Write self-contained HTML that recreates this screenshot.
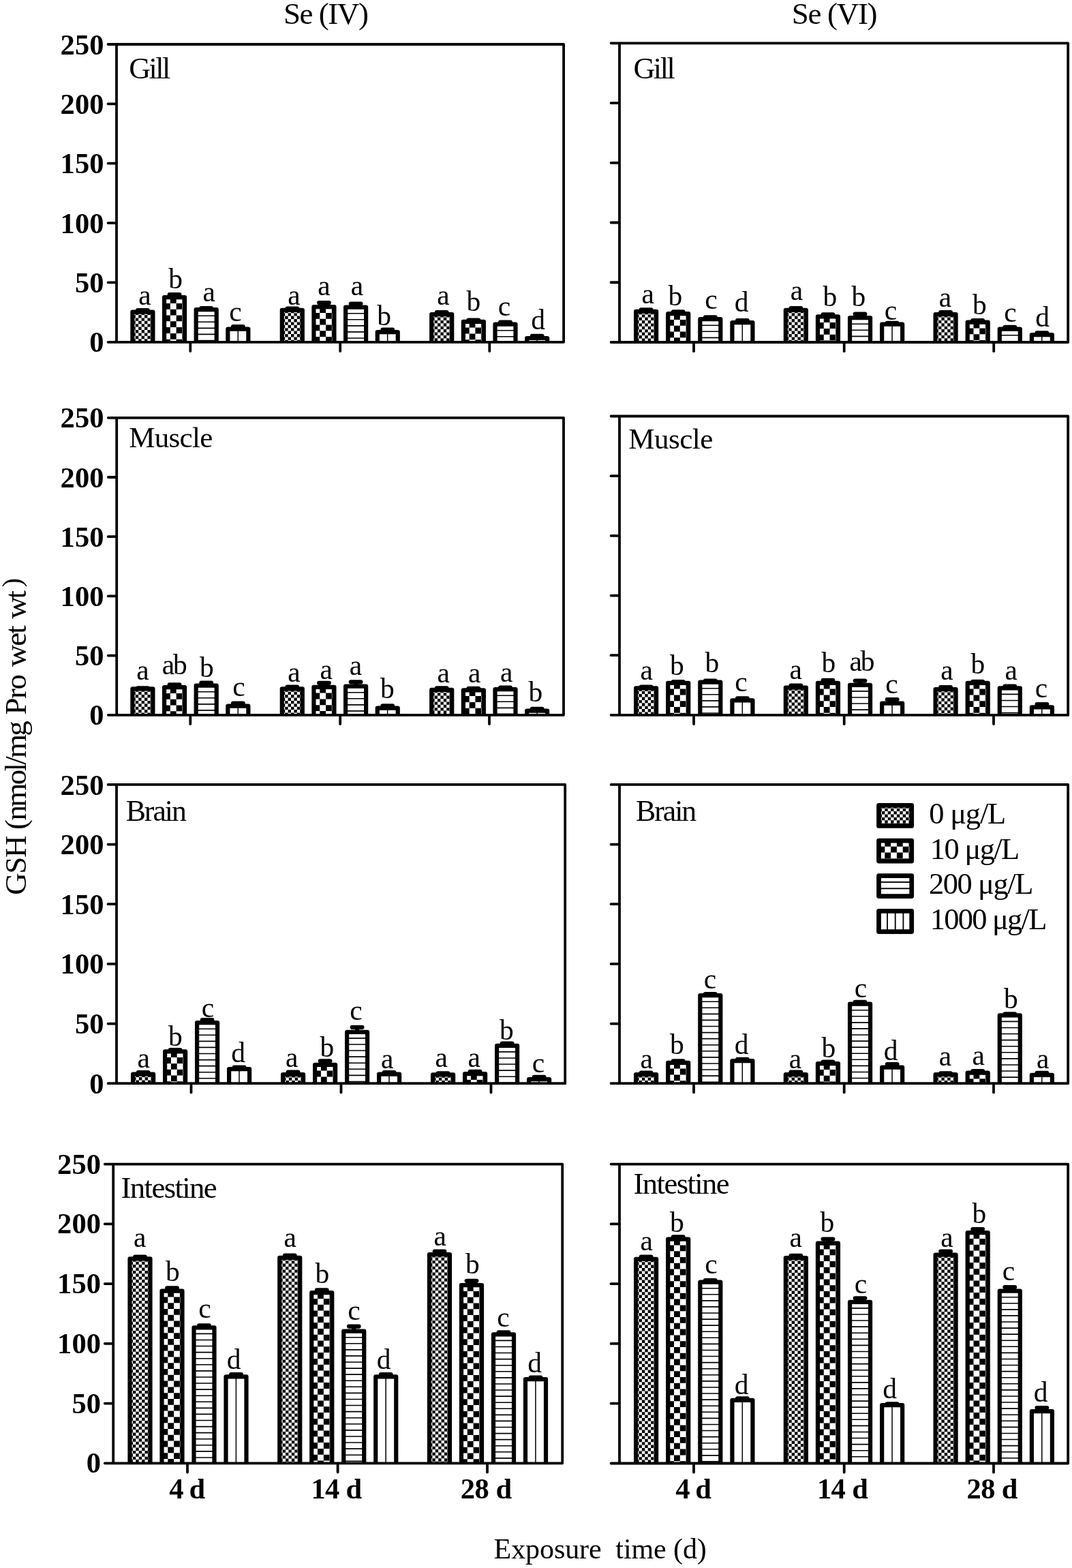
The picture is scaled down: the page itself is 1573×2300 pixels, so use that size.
<!DOCTYPE html>
<html lang="en">
<head>
<meta charset="utf-8">
<title>GSH content in tissues under Se (IV) and Se (VI) exposure</title>
<style>
html,body{margin:0;padding:0;background:#fff}
body{width:1573px;height:2300px;overflow:hidden}
svg{display:block}
text{font-family:"Liberation Serif","DejaVu Serif",serif;fill:#000;font-kerning:none;white-space:pre}
.a{fill:none;stroke:#000;stroke-width:3.8;stroke-linecap:round;stroke-linejoin:round}
.f{fill:none;stroke:#000;stroke-width:3.8;stroke-linecap:butt}
.b{fill:none;stroke:#000;stroke-width:6.2;stroke-linejoin:round;stroke-linecap:butt}
.e{fill:none;stroke:#000;stroke-width:6.2;stroke-linecap:butt}
.c{fill:none;stroke:#000;stroke-width:6.2;stroke-linecap:round}
.k{fill:none;stroke:#000;stroke-linecap:butt}
</style>
</head>
<body>
<svg width="1573" height="2300" viewBox="0 0 1573 2300">

<rect width="1573" height="2300" fill="#fff"/>
<g transform="translate(194.40 457.60)"><rect width="30.00" height="44.20" fill="#fff"/><path class="k" d="M2.20 0V44.20" stroke-width="4.40" stroke-dasharray="4.40" stroke-dashoffset="4.40"/><path class="k" d="M6.60 0V44.20" stroke-width="4.40" stroke-dasharray="4.40" stroke-dashoffset="0.00"/><path class="k" d="M11.00 0V44.20" stroke-width="4.40" stroke-dasharray="4.40" stroke-dashoffset="4.40"/><path class="k" d="M15.40 0V44.20" stroke-width="4.40" stroke-dasharray="4.40" stroke-dashoffset="0.00"/><path class="k" d="M19.80 0V44.20" stroke-width="4.40" stroke-dasharray="4.40" stroke-dashoffset="4.40"/><path class="k" d="M24.20 0V44.20" stroke-width="4.40" stroke-dasharray="4.40" stroke-dashoffset="0.00"/><path class="k" d="M28.20 0V44.20" stroke-width="3.60" stroke-dasharray="4.40" stroke-dashoffset="4.40"/><path class="b" d="M0 44.20V0H30.00V44.20"/></g>
<path class="e" d="M209.40 457.60V455.10"/>
<path class="c" d="M202.10 455.10H216.70"/>
<text x="203.24" y="446.80" font-size="41.50">a</text>
<g transform="translate(241.05 436.10)"><rect width="30.00" height="65.70" fill="#fff"/><path class="k" d="M4.40 0V65.70" stroke-width="8.80" stroke-dasharray="8.80" stroke-dashoffset="8.80"/><path class="k" d="M13.20 0V65.70" stroke-width="8.80" stroke-dasharray="8.80" stroke-dashoffset="0.00"/><path class="k" d="M22.00 0V65.70" stroke-width="8.80" stroke-dasharray="8.80" stroke-dashoffset="8.80"/><path class="k" d="M28.20 0V65.70" stroke-width="3.60" stroke-dasharray="8.80" stroke-dashoffset="0.00"/><path class="b" d="M0 65.70V0H30.00V65.70"/></g>
<path class="e" d="M256.05 436.10V432.10"/>
<path class="c" d="M248.75 432.10H263.35"/>
<text x="247.32" y="422.90" font-size="41.50">b</text>
<g transform="translate(287.70 454.10)"><rect width="30.00" height="47.70" fill="#fff"/><path class="k" d="M15.00 0V47.70" stroke-width="30.00" stroke-dasharray="1.60 7.48" stroke-dashoffset="0.80"/><path class="b" d="M0 47.70V0H30.00V47.70"/></g>
<path class="e" d="M302.70 454.10V452.10"/>
<path class="c" d="M295.40 452.10H310.00"/>
<text x="297.54" y="442.00" font-size="41.50">a</text>
<g transform="translate(334.35 482.60)"><rect width="30.00" height="19.20" fill="#fff"/><rect x="14.15" width="1.50" height="19.20"/><path class="b" d="M0 19.20V0H30.00V19.20"/></g>
<path class="e" d="M349.35 482.60V479.10"/>
<path class="c" d="M342.05 479.10H356.65"/>
<text x="336.34" y="471.10" font-size="41.50">c</text>
<g transform="translate(413.80 454.80)"><rect width="30.00" height="47.00" fill="#fff"/><path class="k" d="M2.20 0V47.00" stroke-width="4.40" stroke-dasharray="4.40" stroke-dashoffset="4.40"/><path class="k" d="M6.60 0V47.00" stroke-width="4.40" stroke-dasharray="4.40" stroke-dashoffset="0.00"/><path class="k" d="M11.00 0V47.00" stroke-width="4.40" stroke-dasharray="4.40" stroke-dashoffset="4.40"/><path class="k" d="M15.40 0V47.00" stroke-width="4.40" stroke-dasharray="4.40" stroke-dashoffset="0.00"/><path class="k" d="M19.80 0V47.00" stroke-width="4.40" stroke-dasharray="4.40" stroke-dashoffset="4.40"/><path class="k" d="M24.20 0V47.00" stroke-width="4.40" stroke-dasharray="4.40" stroke-dashoffset="0.00"/><path class="k" d="M28.20 0V47.00" stroke-width="3.60" stroke-dasharray="4.40" stroke-dashoffset="4.40"/><path class="b" d="M0 47.00V0H30.00V47.00"/></g>
<path class="e" d="M428.80 454.80V452.60"/>
<path class="c" d="M421.50 452.60H436.10"/>
<text x="422.34" y="446.80" font-size="41.50">a</text>
<g transform="translate(460.45 450.10)"><rect width="30.00" height="51.70" fill="#fff"/><path class="k" d="M4.40 0V51.70" stroke-width="8.80" stroke-dasharray="8.80" stroke-dashoffset="8.80"/><path class="k" d="M13.20 0V51.70" stroke-width="8.80" stroke-dasharray="8.80" stroke-dashoffset="0.00"/><path class="k" d="M22.00 0V51.70" stroke-width="8.80" stroke-dasharray="8.80" stroke-dashoffset="8.80"/><path class="k" d="M28.20 0V51.70" stroke-width="3.60" stroke-dasharray="8.80" stroke-dashoffset="0.00"/><path class="b" d="M0 51.70V0H30.00V51.70"/></g>
<path class="e" d="M475.45 450.10V444.10"/>
<path class="c" d="M468.15 444.10H482.75"/>
<text x="466.34" y="433.30" font-size="41.50">a</text>
<g transform="translate(507.10 450.60)"><rect width="30.00" height="51.20" fill="#fff"/><path class="k" d="M15.00 0V51.20" stroke-width="30.00" stroke-dasharray="1.60 7.48" stroke-dashoffset="0.80"/><path class="b" d="M0 51.20V0H30.00V51.20"/></g>
<path class="e" d="M522.10 450.60V445.60"/>
<path class="c" d="M514.80 445.60H529.40"/>
<text x="514.84" y="433.30" font-size="41.50">a</text>
<g transform="translate(553.75 487.10)"><rect width="30.00" height="14.70" fill="#fff"/><rect x="14.15" width="1.50" height="14.70"/><path class="b" d="M0 14.70V0H30.00V14.70"/></g>
<path class="e" d="M568.75 487.10V483.60"/>
<path class="c" d="M561.45 483.60H576.05"/>
<text x="553.22" y="477.30" font-size="41.50">b</text>
<g transform="translate(633.20 461.10)"><rect width="30.00" height="40.70" fill="#fff"/><path class="k" d="M2.20 0V40.70" stroke-width="4.40" stroke-dasharray="4.40" stroke-dashoffset="4.40"/><path class="k" d="M6.60 0V40.70" stroke-width="4.40" stroke-dasharray="4.40" stroke-dashoffset="0.00"/><path class="k" d="M11.00 0V40.70" stroke-width="4.40" stroke-dasharray="4.40" stroke-dashoffset="4.40"/><path class="k" d="M15.40 0V40.70" stroke-width="4.40" stroke-dasharray="4.40" stroke-dashoffset="0.00"/><path class="k" d="M19.80 0V40.70" stroke-width="4.40" stroke-dasharray="4.40" stroke-dashoffset="4.40"/><path class="k" d="M24.20 0V40.70" stroke-width="4.40" stroke-dasharray="4.40" stroke-dashoffset="0.00"/><path class="k" d="M28.20 0V40.70" stroke-width="3.60" stroke-dasharray="4.40" stroke-dashoffset="4.40"/><path class="b" d="M0 40.70V0H30.00V40.70"/></g>
<path class="e" d="M648.20 461.10V458.10"/>
<path class="c" d="M640.90 458.10H655.50"/>
<text x="641.34" y="446.50" font-size="41.50">a</text>
<g transform="translate(679.85 471.80)"><rect width="30.00" height="30.00" fill="#fff"/><path class="k" d="M4.40 0V30.00" stroke-width="8.80" stroke-dasharray="8.80" stroke-dashoffset="8.80"/><path class="k" d="M13.20 0V30.00" stroke-width="8.80" stroke-dasharray="8.80" stroke-dashoffset="0.00"/><path class="k" d="M22.00 0V30.00" stroke-width="8.80" stroke-dasharray="8.80" stroke-dashoffset="8.80"/><path class="k" d="M28.20 0V30.00" stroke-width="3.60" stroke-dasharray="8.80" stroke-dashoffset="0.00"/><path class="b" d="M0 30.00V0H30.00V30.00"/></g>
<path class="e" d="M694.85 471.80V469.60"/>
<path class="c" d="M687.55 469.60H702.15"/>
<text x="684.42" y="456.30" font-size="41.50">b</text>
<g transform="translate(726.50 475.60)"><rect width="30.00" height="26.20" fill="#fff"/><path class="k" d="M15.00 0V26.20" stroke-width="30.00" stroke-dasharray="1.60 7.48" stroke-dashoffset="0.80"/><path class="b" d="M0 26.20V0H30.00V26.20"/></g>
<path class="e" d="M741.50 475.60V472.60"/>
<path class="c" d="M734.20 472.60H748.80"/>
<text x="730.64" y="462.80" font-size="41.50">c</text>
<g transform="translate(773.15 496.00)"><rect width="30.00" height="5.80" fill="#fff"/><rect x="14.15" width="1.50" height="5.80"/><path class="b" d="M0 5.80V0H30.00V5.80"/></g>
<path class="e" d="M788.15 496.00V492.90"/>
<path class="c" d="M780.85 492.90H795.45"/>
<text x="779.13" y="483.30" font-size="41.50">d</text>
<path class="a" d="M158.60 65.00H827.10V501.80H158.60"/>
<path class="f" d="M171.00 65.00V501.80"/>
<path class="a" d="M158.60 152.36H170.50"/>
<path class="a" d="M158.60 239.72H170.50"/>
<path class="a" d="M158.60 327.08H170.50"/>
<path class="a" d="M158.60 414.44H170.50"/>
<path class="a" d="M279.30 502.40V515.00"/>
<path class="a" d="M499.20 502.40V515.00"/>
<path class="a" d="M718.30 502.40V515.00"/>
<text x="88.57" y="79.60" font-size="42.50" font-weight="bold" letter-spacing="0.100">250</text>
<text x="88.57" y="166.96" font-size="42.50" font-weight="bold" letter-spacing="0.100">200</text>
<text x="88.57" y="254.32" font-size="42.50" font-weight="bold" letter-spacing="0.100">150</text>
<text x="88.57" y="341.68" font-size="42.50" font-weight="bold" letter-spacing="0.100">100</text>
<text x="109.92" y="429.04" font-size="42.50" font-weight="bold" letter-spacing="0.100">50</text>
<text x="131.27" y="516.40" font-size="42.50" font-weight="bold" letter-spacing="0.100">0</text>
<text x="189.19" y="114.60" font-size="44.10" letter-spacing="-2.504">Gill</text>
<g transform="translate(933.10 456.80)"><rect width="30.00" height="45.20" fill="#fff"/><path class="k" d="M2.20 0V45.20" stroke-width="4.40" stroke-dasharray="4.40" stroke-dashoffset="4.40"/><path class="k" d="M6.60 0V45.20" stroke-width="4.40" stroke-dasharray="4.40" stroke-dashoffset="0.00"/><path class="k" d="M11.00 0V45.20" stroke-width="4.40" stroke-dasharray="4.40" stroke-dashoffset="4.40"/><path class="k" d="M15.40 0V45.20" stroke-width="4.40" stroke-dasharray="4.40" stroke-dashoffset="0.00"/><path class="k" d="M19.80 0V45.20" stroke-width="4.40" stroke-dasharray="4.40" stroke-dashoffset="4.40"/><path class="k" d="M24.20 0V45.20" stroke-width="4.40" stroke-dasharray="4.40" stroke-dashoffset="0.00"/><path class="k" d="M28.20 0V45.20" stroke-width="3.60" stroke-dasharray="4.40" stroke-dashoffset="4.40"/><path class="b" d="M0 45.20V0H30.00V45.20"/></g>
<path class="e" d="M948.10 456.80V454.30"/>
<path class="c" d="M940.80 454.30H955.40"/>
<text x="941.54" y="445.00" font-size="41.50">a</text>
<g transform="translate(980.20 460.10)"><rect width="30.00" height="41.90" fill="#fff"/><path class="k" d="M4.40 0V41.90" stroke-width="8.80" stroke-dasharray="8.80" stroke-dashoffset="8.80"/><path class="k" d="M13.20 0V41.90" stroke-width="8.80" stroke-dasharray="8.80" stroke-dashoffset="0.00"/><path class="k" d="M22.00 0V41.90" stroke-width="8.80" stroke-dasharray="8.80" stroke-dashoffset="8.80"/><path class="k" d="M28.20 0V41.90" stroke-width="3.60" stroke-dasharray="8.80" stroke-dashoffset="0.00"/><path class="b" d="M0 41.90V0H30.00V41.90"/></g>
<path class="e" d="M995.20 460.10V457.30"/>
<path class="c" d="M987.90 457.30H1002.50"/>
<text x="980.42" y="448.30" font-size="41.50">b</text>
<g transform="translate(1027.30 468.10)"><rect width="30.00" height="33.90" fill="#fff"/><path class="k" d="M15.00 0V33.90" stroke-width="30.00" stroke-dasharray="1.60 7.48" stroke-dashoffset="0.80"/><path class="b" d="M0 33.90V0H30.00V33.90"/></g>
<path class="e" d="M1042.30 468.10V465.30"/>
<path class="c" d="M1035.00 465.30H1049.60"/>
<text x="1034.34" y="452.80" font-size="41.50">c</text>
<g transform="translate(1074.40 473.10)"><rect width="30.00" height="28.90" fill="#fff"/><rect x="14.15" width="1.50" height="28.90"/><path class="b" d="M0 28.90V0H30.00V28.90"/></g>
<path class="e" d="M1089.40 473.10V470.10"/>
<path class="c" d="M1082.10 470.10H1096.70"/>
<text x="1077.83" y="457.00" font-size="41.50">d</text>
<g transform="translate(1152.85 454.80)"><rect width="30.00" height="47.20" fill="#fff"/><path class="k" d="M2.20 0V47.20" stroke-width="4.40" stroke-dasharray="4.40" stroke-dashoffset="4.40"/><path class="k" d="M6.60 0V47.20" stroke-width="4.40" stroke-dasharray="4.40" stroke-dashoffset="0.00"/><path class="k" d="M11.00 0V47.20" stroke-width="4.40" stroke-dasharray="4.40" stroke-dashoffset="4.40"/><path class="k" d="M15.40 0V47.20" stroke-width="4.40" stroke-dasharray="4.40" stroke-dashoffset="0.00"/><path class="k" d="M19.80 0V47.20" stroke-width="4.40" stroke-dasharray="4.40" stroke-dashoffset="4.40"/><path class="k" d="M24.20 0V47.20" stroke-width="4.40" stroke-dasharray="4.40" stroke-dashoffset="0.00"/><path class="k" d="M28.20 0V47.20" stroke-width="3.60" stroke-dasharray="4.40" stroke-dashoffset="4.40"/><path class="b" d="M0 47.20V0H30.00V47.20"/></g>
<path class="e" d="M1167.85 454.80V452.10"/>
<path class="c" d="M1160.55 452.10H1175.15"/>
<text x="1159.84" y="440.00" font-size="41.50">a</text>
<g transform="translate(1199.95 464.30)"><rect width="30.00" height="37.70" fill="#fff"/><path class="k" d="M4.40 0V37.70" stroke-width="8.80" stroke-dasharray="8.80" stroke-dashoffset="8.80"/><path class="k" d="M13.20 0V37.70" stroke-width="8.80" stroke-dasharray="8.80" stroke-dashoffset="0.00"/><path class="k" d="M22.00 0V37.70" stroke-width="8.80" stroke-dasharray="8.80" stroke-dashoffset="8.80"/><path class="k" d="M28.20 0V37.70" stroke-width="3.60" stroke-dasharray="8.80" stroke-dashoffset="0.00"/><path class="b" d="M0 37.70V0H30.00V37.70"/></g>
<path class="e" d="M1214.95 464.30V461.30"/>
<path class="c" d="M1207.65 461.30H1222.25"/>
<text x="1207.42" y="448.80" font-size="41.50">b</text>
<g transform="translate(1247.05 466.10)"><rect width="30.00" height="35.90" fill="#fff"/><path class="k" d="M15.00 0V35.90" stroke-width="30.00" stroke-dasharray="1.60 7.48" stroke-dashoffset="0.80"/><path class="b" d="M0 35.90V0H30.00V35.90"/></g>
<path class="e" d="M1262.05 466.10V460.60"/>
<path class="c" d="M1254.75 460.60H1269.35"/>
<text x="1249.42" y="448.80" font-size="41.50">b</text>
<g transform="translate(1294.15 475.60)"><rect width="30.00" height="26.40" fill="#fff"/><rect x="14.15" width="1.50" height="26.40"/><path class="b" d="M0 26.40V0H30.00V26.40"/></g>
<path class="e" d="M1309.15 475.60V473.80"/>
<path class="c" d="M1301.85 473.80H1316.45"/>
<text x="1297.64" y="468.80" font-size="41.50">c</text>
<g transform="translate(1372.60 461.10)"><rect width="30.00" height="40.90" fill="#fff"/><path class="k" d="M2.20 0V40.90" stroke-width="4.40" stroke-dasharray="4.40" stroke-dashoffset="4.40"/><path class="k" d="M6.60 0V40.90" stroke-width="4.40" stroke-dasharray="4.40" stroke-dashoffset="0.00"/><path class="k" d="M11.00 0V40.90" stroke-width="4.40" stroke-dasharray="4.40" stroke-dashoffset="4.40"/><path class="k" d="M15.40 0V40.90" stroke-width="4.40" stroke-dasharray="4.40" stroke-dashoffset="0.00"/><path class="k" d="M19.80 0V40.90" stroke-width="4.40" stroke-dasharray="4.40" stroke-dashoffset="4.40"/><path class="k" d="M24.20 0V40.90" stroke-width="4.40" stroke-dasharray="4.40" stroke-dashoffset="0.00"/><path class="k" d="M28.20 0V40.90" stroke-width="3.60" stroke-dasharray="4.40" stroke-dashoffset="4.40"/><path class="b" d="M0 40.90V0H30.00V40.90"/></g>
<path class="e" d="M1387.60 461.10V458.10"/>
<path class="c" d="M1380.30 458.10H1394.90"/>
<text x="1377.84" y="449.50" font-size="41.50">a</text>
<g transform="translate(1419.70 472.60)"><rect width="30.00" height="29.40" fill="#fff"/><path class="k" d="M4.40 0V29.40" stroke-width="8.80" stroke-dasharray="8.80" stroke-dashoffset="8.80"/><path class="k" d="M13.20 0V29.40" stroke-width="8.80" stroke-dasharray="8.80" stroke-dashoffset="0.00"/><path class="k" d="M22.00 0V29.40" stroke-width="8.80" stroke-dasharray="8.80" stroke-dashoffset="8.80"/><path class="k" d="M28.20 0V29.40" stroke-width="3.60" stroke-dasharray="8.80" stroke-dashoffset="0.00"/><path class="b" d="M0 29.40V0H30.00V29.40"/></g>
<path class="e" d="M1434.70 472.60V470.10"/>
<path class="c" d="M1427.40 470.10H1442.00"/>
<text x="1426.92" y="460.80" font-size="41.50">b</text>
<g transform="translate(1466.80 482.60)"><rect width="30.00" height="19.40" fill="#fff"/><path class="k" d="M15.00 0V19.40" stroke-width="30.00" stroke-dasharray="1.60 7.48" stroke-dashoffset="0.80"/><path class="b" d="M0 19.40V0H30.00V19.40"/></g>
<path class="e" d="M1481.80 482.60V479.80"/>
<path class="c" d="M1474.50 479.80H1489.10"/>
<text x="1473.14" y="472.00" font-size="41.50">c</text>
<g transform="translate(1513.90 491.10)"><rect width="30.00" height="10.90" fill="#fff"/><rect x="14.15" width="1.50" height="10.90"/><path class="b" d="M0 10.90V0H30.00V10.90"/></g>
<path class="e" d="M1528.90 491.10V488.30"/>
<path class="c" d="M1521.60 488.30H1536.20"/>
<text x="1519.13" y="478.80" font-size="41.50">d</text>
<path class="a" d="M896.60 63.30H1567.20V502.00H896.60"/>
<path class="f" d="M909.00 63.30V502.00"/>
<path class="a" d="M896.60 151.04H908.50"/>
<path class="a" d="M896.60 238.78H908.50"/>
<path class="a" d="M896.60 326.52H908.50"/>
<path class="a" d="M896.60 414.26H908.50"/>
<path class="a" d="M1018.00 502.60V515.20"/>
<path class="a" d="M1238.70 502.60V515.20"/>
<path class="a" d="M1458.20 502.60V515.20"/>
<text x="929.39" y="115.40" font-size="44.10" letter-spacing="-2.404">Gill</text>
<g transform="translate(194.40 1010.30)"><rect width="30.00" height="38.50" fill="#fff"/><path class="k" d="M2.20 0V38.50" stroke-width="4.40" stroke-dasharray="4.40" stroke-dashoffset="4.40"/><path class="k" d="M6.60 0V38.50" stroke-width="4.40" stroke-dasharray="4.40" stroke-dashoffset="0.00"/><path class="k" d="M11.00 0V38.50" stroke-width="4.40" stroke-dasharray="4.40" stroke-dashoffset="4.40"/><path class="k" d="M15.40 0V38.50" stroke-width="4.40" stroke-dasharray="4.40" stroke-dashoffset="0.00"/><path class="k" d="M19.80 0V38.50" stroke-width="4.40" stroke-dasharray="4.40" stroke-dashoffset="4.40"/><path class="k" d="M24.20 0V38.50" stroke-width="4.40" stroke-dasharray="4.40" stroke-dashoffset="0.00"/><path class="k" d="M28.20 0V38.50" stroke-width="3.60" stroke-dasharray="4.40" stroke-dashoffset="4.40"/><path class="b" d="M0 38.50V0H30.00V38.50"/></g>
<path class="e" d="M209.40 1010.30V1009.30"/>
<path class="c" d="M202.10 1009.30H216.70"/>
<text x="200.34" y="996.80" font-size="41.50">a</text>
<g transform="translate(241.05 1008.10)"><rect width="30.00" height="40.70" fill="#fff"/><path class="k" d="M4.40 0V40.70" stroke-width="8.80" stroke-dasharray="8.80" stroke-dashoffset="8.80"/><path class="k" d="M13.20 0V40.70" stroke-width="8.80" stroke-dasharray="8.80" stroke-dashoffset="0.00"/><path class="k" d="M22.00 0V40.70" stroke-width="8.80" stroke-dasharray="8.80" stroke-dashoffset="8.80"/><path class="k" d="M28.20 0V40.70" stroke-width="3.60" stroke-dasharray="8.80" stroke-dashoffset="0.00"/><path class="b" d="M0 40.70V0H30.00V40.70"/></g>
<path class="e" d="M256.05 1008.10V1004.30"/>
<path class="c" d="M248.75 1004.30H263.35"/>
<text x="237.78" y="989.30" font-size="41.50" letter-spacing="-2.200">ab</text>
<g transform="translate(287.70 1005.60)"><rect width="30.00" height="43.20" fill="#fff"/><path class="k" d="M15.00 0V43.20" stroke-width="30.00" stroke-dasharray="1.60 7.48" stroke-dashoffset="0.80"/><path class="b" d="M0 43.20V0H30.00V43.20"/></g>
<path class="e" d="M302.70 1005.60V1001.60"/>
<path class="c" d="M295.40 1001.60H310.00"/>
<text x="293.12" y="992.50" font-size="41.50">b</text>
<g transform="translate(334.35 1035.60)"><rect width="30.00" height="13.20" fill="#fff"/><rect x="14.15" width="1.50" height="13.20"/><path class="b" d="M0 13.20V0H30.00V13.20"/></g>
<path class="e" d="M349.35 1035.60V1031.60"/>
<path class="c" d="M342.05 1031.60H356.65"/>
<text x="341.14" y="1021.30" font-size="41.50">c</text>
<g transform="translate(413.80 1010.30)"><rect width="30.00" height="38.50" fill="#fff"/><path class="k" d="M2.20 0V38.50" stroke-width="4.40" stroke-dasharray="4.40" stroke-dashoffset="4.40"/><path class="k" d="M6.60 0V38.50" stroke-width="4.40" stroke-dasharray="4.40" stroke-dashoffset="0.00"/><path class="k" d="M11.00 0V38.50" stroke-width="4.40" stroke-dasharray="4.40" stroke-dashoffset="4.40"/><path class="k" d="M15.40 0V38.50" stroke-width="4.40" stroke-dasharray="4.40" stroke-dashoffset="0.00"/><path class="k" d="M19.80 0V38.50" stroke-width="4.40" stroke-dasharray="4.40" stroke-dashoffset="4.40"/><path class="k" d="M24.20 0V38.50" stroke-width="4.40" stroke-dasharray="4.40" stroke-dashoffset="0.00"/><path class="k" d="M28.20 0V38.50" stroke-width="3.60" stroke-dasharray="4.40" stroke-dashoffset="4.40"/><path class="b" d="M0 38.50V0H30.00V38.50"/></g>
<path class="e" d="M428.80 1010.30V1007.60"/>
<path class="c" d="M421.50 1007.60H436.10"/>
<text x="422.34" y="999.50" font-size="41.50">a</text>
<g transform="translate(460.45 1007.80)"><rect width="30.00" height="41.00" fill="#fff"/><path class="k" d="M4.40 0V41.00" stroke-width="8.80" stroke-dasharray="8.80" stroke-dashoffset="8.80"/><path class="k" d="M13.20 0V41.00" stroke-width="8.80" stroke-dasharray="8.80" stroke-dashoffset="0.00"/><path class="k" d="M22.00 0V41.00" stroke-width="8.80" stroke-dasharray="8.80" stroke-dashoffset="8.80"/><path class="k" d="M28.20 0V41.00" stroke-width="3.60" stroke-dasharray="8.80" stroke-dashoffset="0.00"/><path class="b" d="M0 41.00V0H30.00V41.00"/></g>
<path class="e" d="M475.45 1007.80V1001.80"/>
<path class="c" d="M468.15 1001.80H482.75"/>
<text x="469.54" y="995.50" font-size="41.50">a</text>
<g transform="translate(507.10 1006.60)"><rect width="30.00" height="42.20" fill="#fff"/><path class="k" d="M15.00 0V42.20" stroke-width="30.00" stroke-dasharray="1.60 7.48" stroke-dashoffset="0.80"/><path class="b" d="M0 42.20V0H30.00V42.20"/></g>
<path class="e" d="M522.10 1006.60V1000.30"/>
<path class="c" d="M514.80 1000.30H529.40"/>
<text x="512.84" y="989.50" font-size="41.50">a</text>
<g transform="translate(553.75 1038.60)"><rect width="30.00" height="10.20" fill="#fff"/><rect x="14.15" width="1.50" height="10.20"/><path class="b" d="M0 10.20V0H30.00V10.20"/></g>
<path class="e" d="M568.75 1038.60V1035.30"/>
<path class="c" d="M561.45 1035.30H576.05"/>
<text x="558.12" y="1024.30" font-size="41.50">b</text>
<g transform="translate(633.20 1011.80)"><rect width="30.00" height="37.00" fill="#fff"/><path class="k" d="M2.20 0V37.00" stroke-width="4.40" stroke-dasharray="4.40" stroke-dashoffset="4.40"/><path class="k" d="M6.60 0V37.00" stroke-width="4.40" stroke-dasharray="4.40" stroke-dashoffset="0.00"/><path class="k" d="M11.00 0V37.00" stroke-width="4.40" stroke-dasharray="4.40" stroke-dashoffset="4.40"/><path class="k" d="M15.40 0V37.00" stroke-width="4.40" stroke-dasharray="4.40" stroke-dashoffset="0.00"/><path class="k" d="M19.80 0V37.00" stroke-width="4.40" stroke-dasharray="4.40" stroke-dashoffset="4.40"/><path class="k" d="M24.20 0V37.00" stroke-width="4.40" stroke-dasharray="4.40" stroke-dashoffset="0.00"/><path class="k" d="M28.20 0V37.00" stroke-width="3.60" stroke-dasharray="4.40" stroke-dashoffset="4.40"/><path class="b" d="M0 37.00V0H30.00V37.00"/></g>
<path class="e" d="M648.20 1011.80V1009.30"/>
<path class="c" d="M640.90 1009.30H655.50"/>
<text x="641.54" y="1001.30" font-size="41.50">a</text>
<g transform="translate(679.85 1012.30)"><rect width="30.00" height="36.50" fill="#fff"/><path class="k" d="M4.40 0V36.50" stroke-width="8.80" stroke-dasharray="8.80" stroke-dashoffset="8.80"/><path class="k" d="M13.20 0V36.50" stroke-width="8.80" stroke-dasharray="8.80" stroke-dashoffset="0.00"/><path class="k" d="M22.00 0V36.50" stroke-width="8.80" stroke-dasharray="8.80" stroke-dashoffset="8.80"/><path class="k" d="M28.20 0V36.50" stroke-width="3.60" stroke-dasharray="8.80" stroke-dashoffset="0.00"/><path class="b" d="M0 36.50V0H30.00V36.50"/></g>
<path class="e" d="M694.85 1012.30V1009.80"/>
<path class="c" d="M687.55 1009.80H702.15"/>
<text x="687.04" y="1001.30" font-size="41.50">a</text>
<g transform="translate(726.50 1011.10)"><rect width="30.00" height="37.70" fill="#fff"/><path class="k" d="M15.00 0V37.70" stroke-width="30.00" stroke-dasharray="1.60 7.48" stroke-dashoffset="0.80"/><path class="b" d="M0 37.70V0H30.00V37.70"/></g>
<path class="e" d="M741.50 1011.10V1008.60"/>
<path class="c" d="M734.20 1008.60H748.80"/>
<text x="734.04" y="1000.00" font-size="41.50">a</text>
<g transform="translate(773.15 1042.60)"><rect width="30.00" height="6.20" fill="#fff"/><rect x="14.15" width="1.50" height="6.20"/><path class="b" d="M0 6.20V0H30.00V6.20"/></g>
<path class="e" d="M788.15 1042.60V1039.80"/>
<path class="c" d="M780.85 1039.80H795.45"/>
<text x="775.62" y="1029.30" font-size="41.50">b</text>
<path class="a" d="M158.80 612.80H827.00V1048.80H158.80"/>
<path class="f" d="M171.20 612.80V1048.80"/>
<path class="a" d="M158.80 700.00H170.70"/>
<path class="a" d="M158.80 787.20H170.70"/>
<path class="a" d="M158.80 874.40H170.70"/>
<path class="a" d="M158.80 961.60H170.70"/>
<path class="a" d="M279.30 1049.40V1062.00"/>
<path class="a" d="M499.20 1049.40V1062.00"/>
<path class="a" d="M718.00 1049.40V1062.00"/>
<text x="88.57" y="627.40" font-size="42.50" font-weight="bold" letter-spacing="0.100">250</text>
<text x="88.57" y="714.60" font-size="42.50" font-weight="bold" letter-spacing="0.100">200</text>
<text x="88.57" y="801.80" font-size="42.50" font-weight="bold" letter-spacing="0.100">150</text>
<text x="88.57" y="889.00" font-size="42.50" font-weight="bold" letter-spacing="0.100">100</text>
<text x="109.92" y="976.20" font-size="42.50" font-weight="bold" letter-spacing="0.100">50</text>
<text x="131.27" y="1063.40" font-size="42.50" font-weight="bold" letter-spacing="0.100">0</text>
<text x="189.16" y="656.00" font-size="43.00" letter-spacing="-0.671">Muscle</text>
<g transform="translate(933.10 1009.30)"><rect width="30.00" height="39.60" fill="#fff"/><path class="k" d="M2.20 0V39.60" stroke-width="4.40" stroke-dasharray="4.40" stroke-dashoffset="4.40"/><path class="k" d="M6.60 0V39.60" stroke-width="4.40" stroke-dasharray="4.40" stroke-dashoffset="0.00"/><path class="k" d="M11.00 0V39.60" stroke-width="4.40" stroke-dasharray="4.40" stroke-dashoffset="4.40"/><path class="k" d="M15.40 0V39.60" stroke-width="4.40" stroke-dasharray="4.40" stroke-dashoffset="0.00"/><path class="k" d="M19.80 0V39.60" stroke-width="4.40" stroke-dasharray="4.40" stroke-dashoffset="4.40"/><path class="k" d="M24.20 0V39.60" stroke-width="4.40" stroke-dasharray="4.40" stroke-dashoffset="0.00"/><path class="k" d="M28.20 0V39.60" stroke-width="3.60" stroke-dasharray="4.40" stroke-dashoffset="4.40"/><path class="b" d="M0 39.60V0H30.00V39.60"/></g>
<path class="e" d="M948.10 1009.30V1007.60"/>
<path class="c" d="M940.80 1007.60H955.40"/>
<text x="939.54" y="996.80" font-size="41.50">a</text>
<g transform="translate(980.20 1001.80)"><rect width="30.00" height="47.10" fill="#fff"/><path class="k" d="M4.40 0V47.10" stroke-width="8.80" stroke-dasharray="8.80" stroke-dashoffset="8.80"/><path class="k" d="M13.20 0V47.10" stroke-width="8.80" stroke-dasharray="8.80" stroke-dashoffset="0.00"/><path class="k" d="M22.00 0V47.10" stroke-width="8.80" stroke-dasharray="8.80" stroke-dashoffset="8.80"/><path class="k" d="M28.20 0V47.10" stroke-width="3.60" stroke-dasharray="8.80" stroke-dashoffset="0.00"/><path class="b" d="M0 47.10V0H30.00V47.10"/></g>
<path class="e" d="M995.20 1001.80V1000.10"/>
<path class="c" d="M987.90 1000.10H1002.50"/>
<text x="983.12" y="989.50" font-size="41.50">b</text>
<g transform="translate(1027.30 1000.60)"><rect width="30.00" height="48.30" fill="#fff"/><path class="k" d="M15.00 0V48.30" stroke-width="30.00" stroke-dasharray="1.60 7.48" stroke-dashoffset="0.80"/><path class="b" d="M0 48.30V0H30.00V48.30"/></g>
<path class="e" d="M1042.30 1000.60V998.60"/>
<path class="c" d="M1035.00 998.60H1049.60"/>
<text x="1034.42" y="986.30" font-size="41.50">b</text>
<g transform="translate(1074.40 1027.30)"><rect width="30.00" height="21.60" fill="#fff"/><rect x="14.15" width="1.50" height="21.60"/><path class="b" d="M0 21.60V0H30.00V21.60"/></g>
<path class="e" d="M1089.40 1027.30V1024.30"/>
<path class="c" d="M1082.10 1024.30H1096.70"/>
<text x="1078.14" y="1014.30" font-size="41.50">c</text>
<g transform="translate(1152.85 1008.60)"><rect width="30.00" height="40.30" fill="#fff"/><path class="k" d="M2.20 0V40.30" stroke-width="4.40" stroke-dasharray="4.40" stroke-dashoffset="4.40"/><path class="k" d="M6.60 0V40.30" stroke-width="4.40" stroke-dasharray="4.40" stroke-dashoffset="0.00"/><path class="k" d="M11.00 0V40.30" stroke-width="4.40" stroke-dasharray="4.40" stroke-dashoffset="4.40"/><path class="k" d="M15.40 0V40.30" stroke-width="4.40" stroke-dasharray="4.40" stroke-dashoffset="0.00"/><path class="k" d="M19.80 0V40.30" stroke-width="4.40" stroke-dasharray="4.40" stroke-dashoffset="4.40"/><path class="k" d="M24.20 0V40.30" stroke-width="4.40" stroke-dasharray="4.40" stroke-dashoffset="0.00"/><path class="k" d="M28.20 0V40.30" stroke-width="3.60" stroke-dasharray="4.40" stroke-dashoffset="4.40"/><path class="b" d="M0 40.30V0H30.00V40.30"/></g>
<path class="e" d="M1167.85 1008.60V1005.60"/>
<path class="c" d="M1160.55 1005.60H1175.15"/>
<text x="1158.54" y="995.50" font-size="41.50">a</text>
<g transform="translate(1199.95 1001.80)"><rect width="30.00" height="47.10" fill="#fff"/><path class="k" d="M4.40 0V47.10" stroke-width="8.80" stroke-dasharray="8.80" stroke-dashoffset="8.80"/><path class="k" d="M13.20 0V47.10" stroke-width="8.80" stroke-dasharray="8.80" stroke-dashoffset="0.00"/><path class="k" d="M22.00 0V47.10" stroke-width="8.80" stroke-dasharray="8.80" stroke-dashoffset="8.80"/><path class="k" d="M28.20 0V47.10" stroke-width="3.60" stroke-dasharray="8.80" stroke-dashoffset="0.00"/><path class="b" d="M0 47.10V0H30.00V47.10"/></g>
<path class="e" d="M1214.95 1001.80V997.80"/>
<path class="c" d="M1207.65 997.80H1222.25"/>
<text x="1205.62" y="986.30" font-size="41.50">b</text>
<g transform="translate(1247.05 1004.80)"><rect width="30.00" height="44.10" fill="#fff"/><path class="k" d="M15.00 0V44.10" stroke-width="30.00" stroke-dasharray="1.60 7.48" stroke-dashoffset="0.80"/><path class="b" d="M0 44.10V0H30.00V44.10"/></g>
<path class="e" d="M1262.05 1004.80V998.60"/>
<path class="c" d="M1254.75 998.60H1269.35"/>
<text x="1246.58" y="983.80" font-size="41.50" letter-spacing="-2.200">ab</text>
<g transform="translate(1294.15 1031.60)"><rect width="30.00" height="17.30" fill="#fff"/><rect x="14.15" width="1.50" height="17.30"/><path class="b" d="M0 17.30V0H30.00V17.30"/></g>
<path class="e" d="M1309.15 1031.60V1026.10"/>
<path class="c" d="M1301.85 1026.10H1316.45"/>
<text x="1299.34" y="1016.80" font-size="41.50">c</text>
<g transform="translate(1372.60 1011.10)"><rect width="30.00" height="37.80" fill="#fff"/><path class="k" d="M2.20 0V37.80" stroke-width="4.40" stroke-dasharray="4.40" stroke-dashoffset="4.40"/><path class="k" d="M6.60 0V37.80" stroke-width="4.40" stroke-dasharray="4.40" stroke-dashoffset="0.00"/><path class="k" d="M11.00 0V37.80" stroke-width="4.40" stroke-dasharray="4.40" stroke-dashoffset="4.40"/><path class="k" d="M15.40 0V37.80" stroke-width="4.40" stroke-dasharray="4.40" stroke-dashoffset="0.00"/><path class="k" d="M19.80 0V37.80" stroke-width="4.40" stroke-dasharray="4.40" stroke-dashoffset="4.40"/><path class="k" d="M24.20 0V37.80" stroke-width="4.40" stroke-dasharray="4.40" stroke-dashoffset="0.00"/><path class="k" d="M28.20 0V37.80" stroke-width="3.60" stroke-dasharray="4.40" stroke-dashoffset="4.40"/><path class="b" d="M0 37.80V0H30.00V37.80"/></g>
<path class="e" d="M1387.60 1011.10V1008.10"/>
<path class="c" d="M1380.30 1008.10H1394.90"/>
<text x="1380.34" y="996.80" font-size="41.50">a</text>
<g transform="translate(1419.70 1001.80)"><rect width="30.00" height="47.10" fill="#fff"/><path class="k" d="M4.40 0V47.10" stroke-width="8.80" stroke-dasharray="8.80" stroke-dashoffset="8.80"/><path class="k" d="M13.20 0V47.10" stroke-width="8.80" stroke-dasharray="8.80" stroke-dashoffset="0.00"/><path class="k" d="M22.00 0V47.10" stroke-width="8.80" stroke-dasharray="8.80" stroke-dashoffset="8.80"/><path class="k" d="M28.20 0V47.10" stroke-width="3.60" stroke-dasharray="8.80" stroke-dashoffset="0.00"/><path class="b" d="M0 47.10V0H30.00V47.10"/></g>
<path class="e" d="M1434.70 1001.80V999.80"/>
<path class="c" d="M1427.40 999.80H1442.00"/>
<text x="1424.42" y="988.00" font-size="41.50">b</text>
<g transform="translate(1466.80 1009.30)"><rect width="30.00" height="39.60" fill="#fff"/><path class="k" d="M15.00 0V39.60" stroke-width="30.00" stroke-dasharray="1.60 7.48" stroke-dashoffset="0.80"/><path class="b" d="M0 39.60V0H30.00V39.60"/></g>
<path class="e" d="M1481.80 1009.30V1006.60"/>
<path class="c" d="M1474.50 1006.60H1489.10"/>
<text x="1474.54" y="996.80" font-size="41.50">a</text>
<g transform="translate(1513.90 1037.30)"><rect width="30.00" height="11.60" fill="#fff"/><rect x="14.15" width="1.50" height="11.60"/><path class="b" d="M0 11.60V0H30.00V11.60"/></g>
<path class="e" d="M1528.90 1037.30V1033.10"/>
<path class="c" d="M1521.60 1033.10H1536.20"/>
<text x="1518.84" y="1022.50" font-size="41.50">c</text>
<path class="a" d="M896.60 610.50H1567.20V1048.90H896.60"/>
<path class="f" d="M909.00 610.50V1048.90"/>
<path class="a" d="M896.60 698.18H908.50"/>
<path class="a" d="M896.60 785.86H908.50"/>
<path class="a" d="M896.60 873.54H908.50"/>
<path class="a" d="M896.60 961.22H908.50"/>
<path class="a" d="M1018.00 1049.50V1062.10"/>
<path class="a" d="M1238.70 1049.50V1062.10"/>
<path class="a" d="M1458.00 1049.50V1062.10"/>
<text x="922.26" y="657.80" font-size="43.00" letter-spacing="-0.491">Muscle</text>
<g transform="translate(195.10 1575.60)"><rect width="30.00" height="13.60" fill="#fff"/><path class="k" d="M2.20 0V13.60" stroke-width="4.40" stroke-dasharray="4.40" stroke-dashoffset="4.40"/><path class="k" d="M6.60 0V13.60" stroke-width="4.40" stroke-dasharray="4.40" stroke-dashoffset="0.00"/><path class="k" d="M11.00 0V13.60" stroke-width="4.40" stroke-dasharray="4.40" stroke-dashoffset="4.40"/><path class="k" d="M15.40 0V13.60" stroke-width="4.40" stroke-dasharray="4.40" stroke-dashoffset="0.00"/><path class="k" d="M19.80 0V13.60" stroke-width="4.40" stroke-dasharray="4.40" stroke-dashoffset="4.40"/><path class="k" d="M24.20 0V13.60" stroke-width="4.40" stroke-dasharray="4.40" stroke-dashoffset="0.00"/><path class="k" d="M28.20 0V13.60" stroke-width="3.60" stroke-dasharray="4.40" stroke-dashoffset="4.40"/><path class="b" d="M0 13.60V0H30.00V13.60"/></g>
<path class="e" d="M210.10 1575.60V1573.10"/>
<path class="c" d="M202.80 1573.10H217.40"/>
<text x="201.54" y="1565.80" font-size="41.50">a</text>
<g transform="translate(242.10 1542.30)"><rect width="30.00" height="46.90" fill="#fff"/><path class="k" d="M4.40 0V46.90" stroke-width="8.80" stroke-dasharray="8.80" stroke-dashoffset="8.80"/><path class="k" d="M13.20 0V46.90" stroke-width="8.80" stroke-dasharray="8.80" stroke-dashoffset="0.00"/><path class="k" d="M22.00 0V46.90" stroke-width="8.80" stroke-dasharray="8.80" stroke-dashoffset="8.80"/><path class="k" d="M28.20 0V46.90" stroke-width="3.60" stroke-dasharray="8.80" stroke-dashoffset="0.00"/><path class="b" d="M0 46.90V0H30.00V46.90"/></g>
<path class="e" d="M257.10 1542.30V1540.10"/>
<path class="c" d="M249.80 1540.10H264.40"/>
<text x="246.92" y="1533.80" font-size="41.50">b</text>
<g transform="translate(289.10 1500.10)"><rect width="30.00" height="89.10" fill="#fff"/><path class="k" d="M15.00 0V89.10" stroke-width="30.00" stroke-dasharray="1.60 7.48" stroke-dashoffset="0.80"/><path class="b" d="M0 89.10V0H30.00V89.10"/></g>
<path class="e" d="M304.10 1500.10V1496.10"/>
<path class="c" d="M296.80 1496.10H311.40"/>
<text x="295.64" y="1492.00" font-size="41.50">c</text>
<g transform="translate(336.10 1568.10)"><rect width="30.00" height="21.10" fill="#fff"/><rect x="14.15" width="1.50" height="21.10"/><path class="b" d="M0 21.10V0H30.00V21.10"/></g>
<path class="e" d="M351.10 1568.10V1565.60"/>
<path class="c" d="M343.80 1565.60H358.40"/>
<text x="339.13" y="1558.30" font-size="41.50">d</text>
<g transform="translate(415.10 1576.10)"><rect width="30.00" height="13.10" fill="#fff"/><path class="k" d="M2.20 0V13.10" stroke-width="4.40" stroke-dasharray="4.40" stroke-dashoffset="4.40"/><path class="k" d="M6.60 0V13.10" stroke-width="4.40" stroke-dasharray="4.40" stroke-dashoffset="0.00"/><path class="k" d="M11.00 0V13.10" stroke-width="4.40" stroke-dasharray="4.40" stroke-dashoffset="4.40"/><path class="k" d="M15.40 0V13.10" stroke-width="4.40" stroke-dasharray="4.40" stroke-dashoffset="0.00"/><path class="k" d="M19.80 0V13.10" stroke-width="4.40" stroke-dasharray="4.40" stroke-dashoffset="4.40"/><path class="k" d="M24.20 0V13.10" stroke-width="4.40" stroke-dasharray="4.40" stroke-dashoffset="0.00"/><path class="k" d="M28.20 0V13.10" stroke-width="3.60" stroke-dasharray="4.40" stroke-dashoffset="4.40"/><path class="b" d="M0 13.10V0H30.00V13.10"/></g>
<path class="e" d="M430.10 1576.10V1572.60"/>
<path class="c" d="M422.80 1572.60H437.40"/>
<text x="419.04" y="1565.30" font-size="41.50">a</text>
<g transform="translate(462.10 1561.80)"><rect width="30.00" height="27.40" fill="#fff"/><path class="k" d="M4.40 0V27.40" stroke-width="8.80" stroke-dasharray="8.80" stroke-dashoffset="8.80"/><path class="k" d="M13.20 0V27.40" stroke-width="8.80" stroke-dasharray="8.80" stroke-dashoffset="0.00"/><path class="k" d="M22.00 0V27.40" stroke-width="8.80" stroke-dasharray="8.80" stroke-dashoffset="8.80"/><path class="k" d="M28.20 0V27.40" stroke-width="3.60" stroke-dasharray="8.80" stroke-dashoffset="0.00"/><path class="b" d="M0 27.40V0H30.00V27.40"/></g>
<path class="e" d="M477.10 1561.80V1556.30"/>
<path class="c" d="M469.80 1556.30H484.40"/>
<text x="469.42" y="1549.50" font-size="41.50">b</text>
<g transform="translate(509.10 1513.80)"><rect width="30.00" height="75.40" fill="#fff"/><path class="k" d="M15.00 0V75.40" stroke-width="30.00" stroke-dasharray="1.60 7.48" stroke-dashoffset="0.80"/><path class="b" d="M0 75.40V0H30.00V75.40"/></g>
<path class="e" d="M524.10 1513.80V1506.80"/>
<path class="c" d="M516.80 1506.80H531.40"/>
<text x="513.14" y="1496.30" font-size="41.50">c</text>
<g transform="translate(556.10 1575.60)"><rect width="30.00" height="13.60" fill="#fff"/><rect x="14.15" width="1.50" height="13.60"/><path class="b" d="M0 13.60V0H30.00V13.60"/></g>
<path class="e" d="M571.10 1575.60V1573.10"/>
<path class="c" d="M563.80 1573.10H578.40"/>
<text x="559.04" y="1566.50" font-size="41.50">a</text>
<g transform="translate(635.10 1576.30)"><rect width="30.00" height="12.90" fill="#fff"/><path class="k" d="M2.20 0V12.90" stroke-width="4.40" stroke-dasharray="4.40" stroke-dashoffset="4.40"/><path class="k" d="M6.60 0V12.90" stroke-width="4.40" stroke-dasharray="4.40" stroke-dashoffset="0.00"/><path class="k" d="M11.00 0V12.90" stroke-width="4.40" stroke-dasharray="4.40" stroke-dashoffset="4.40"/><path class="k" d="M15.40 0V12.90" stroke-width="4.40" stroke-dasharray="4.40" stroke-dashoffset="0.00"/><path class="k" d="M19.80 0V12.90" stroke-width="4.40" stroke-dasharray="4.40" stroke-dashoffset="4.40"/><path class="k" d="M24.20 0V12.90" stroke-width="4.40" stroke-dasharray="4.40" stroke-dashoffset="0.00"/><path class="k" d="M28.20 0V12.90" stroke-width="3.60" stroke-dasharray="4.40" stroke-dashoffset="4.40"/><path class="b" d="M0 12.90V0H30.00V12.90"/></g>
<path class="e" d="M650.10 1576.30V1574.30"/>
<path class="c" d="M642.80 1574.30H657.40"/>
<text x="638.54" y="1565.00" font-size="41.50">a</text>
<g transform="translate(682.10 1575.10)"><rect width="30.00" height="14.10" fill="#fff"/><path class="k" d="M4.40 0V14.10" stroke-width="8.80" stroke-dasharray="8.80" stroke-dashoffset="8.80"/><path class="k" d="M13.20 0V14.10" stroke-width="8.80" stroke-dasharray="8.80" stroke-dashoffset="0.00"/><path class="k" d="M22.00 0V14.10" stroke-width="8.80" stroke-dasharray="8.80" stroke-dashoffset="8.80"/><path class="k" d="M28.20 0V14.10" stroke-width="3.60" stroke-dasharray="8.80" stroke-dashoffset="0.00"/><path class="b" d="M0 14.10V0H30.00V14.10"/></g>
<path class="e" d="M697.10 1575.10V1571.80"/>
<path class="c" d="M689.80 1571.80H704.40"/>
<text x="686.54" y="1565.00" font-size="41.50">a</text>
<g transform="translate(729.10 1533.80)"><rect width="30.00" height="55.40" fill="#fff"/><path class="k" d="M15.00 0V55.40" stroke-width="30.00" stroke-dasharray="1.60 7.48" stroke-dashoffset="0.80"/><path class="b" d="M0 55.40V0H30.00V55.40"/></g>
<path class="e" d="M744.10 1533.80V1530.60"/>
<path class="c" d="M736.80 1530.60H751.40"/>
<text x="733.12" y="1524.50" font-size="41.50">b</text>
<g transform="translate(776.10 1583.10)"><rect width="30.00" height="6.10" fill="#fff"/><rect x="14.15" width="1.50" height="6.10"/><path class="b" d="M0 6.10V0H30.00V6.10"/></g>
<path class="e" d="M791.10 1583.10V1579.80"/>
<path class="c" d="M783.80 1579.80H798.40"/>
<text x="780.64" y="1572.80" font-size="41.50">c</text>
<path class="a" d="M158.60 1150.90H829.20V1589.20H158.60"/>
<path class="f" d="M171.00 1150.90V1589.20"/>
<path class="a" d="M158.60 1238.56H170.50"/>
<path class="a" d="M158.60 1326.22H170.50"/>
<path class="a" d="M158.60 1413.88H170.50"/>
<path class="a" d="M158.60 1501.54H170.50"/>
<path class="a" d="M280.50 1589.80V1602.40"/>
<path class="a" d="M500.50 1589.80V1602.40"/>
<path class="a" d="M720.50 1589.80V1602.40"/>
<text x="88.57" y="1165.50" font-size="42.50" font-weight="bold" letter-spacing="0.100">250</text>
<text x="88.57" y="1253.16" font-size="42.50" font-weight="bold" letter-spacing="0.100">200</text>
<text x="88.57" y="1340.82" font-size="42.50" font-weight="bold" letter-spacing="0.100">150</text>
<text x="88.57" y="1428.48" font-size="42.50" font-weight="bold" letter-spacing="0.100">100</text>
<text x="109.92" y="1516.14" font-size="42.50" font-weight="bold" letter-spacing="0.100">50</text>
<text x="131.27" y="1603.80" font-size="42.50" font-weight="bold" letter-spacing="0.100">0</text>
<text x="184.64" y="1203.90" font-size="43.80" letter-spacing="-1.996">Brain</text>
<g transform="translate(933.10 1576.10)"><rect width="30.00" height="13.10" fill="#fff"/><path class="k" d="M2.20 0V13.10" stroke-width="4.40" stroke-dasharray="4.40" stroke-dashoffset="4.40"/><path class="k" d="M6.60 0V13.10" stroke-width="4.40" stroke-dasharray="4.40" stroke-dashoffset="0.00"/><path class="k" d="M11.00 0V13.10" stroke-width="4.40" stroke-dasharray="4.40" stroke-dashoffset="4.40"/><path class="k" d="M15.40 0V13.10" stroke-width="4.40" stroke-dasharray="4.40" stroke-dashoffset="0.00"/><path class="k" d="M19.80 0V13.10" stroke-width="4.40" stroke-dasharray="4.40" stroke-dashoffset="4.40"/><path class="k" d="M24.20 0V13.10" stroke-width="4.40" stroke-dasharray="4.40" stroke-dashoffset="0.00"/><path class="k" d="M28.20 0V13.10" stroke-width="3.60" stroke-dasharray="4.40" stroke-dashoffset="4.40"/><path class="b" d="M0 13.10V0H30.00V13.10"/></g>
<path class="e" d="M948.10 1576.10V1573.60"/>
<path class="c" d="M940.80 1573.60H955.40"/>
<text x="939.54" y="1566.50" font-size="41.50">a</text>
<g transform="translate(980.20 1558.80)"><rect width="30.00" height="30.40" fill="#fff"/><path class="k" d="M4.40 0V30.40" stroke-width="8.80" stroke-dasharray="8.80" stroke-dashoffset="8.80"/><path class="k" d="M13.20 0V30.40" stroke-width="8.80" stroke-dasharray="8.80" stroke-dashoffset="0.00"/><path class="k" d="M22.00 0V30.40" stroke-width="8.80" stroke-dasharray="8.80" stroke-dashoffset="8.80"/><path class="k" d="M28.20 0V30.40" stroke-width="3.60" stroke-dasharray="8.80" stroke-dashoffset="0.00"/><path class="b" d="M0 30.40V0H30.00V30.40"/></g>
<path class="e" d="M995.20 1558.80V1556.30"/>
<path class="c" d="M987.90 1556.30H1002.50"/>
<text x="983.12" y="1546.30" font-size="41.50">b</text>
<g transform="translate(1027.30 1460.10)"><rect width="30.00" height="129.10" fill="#fff"/><path class="k" d="M15.00 0V129.10" stroke-width="30.00" stroke-dasharray="1.60 7.48" stroke-dashoffset="0.80"/><path class="b" d="M0 129.10V0H30.00V129.10"/></g>
<path class="e" d="M1042.30 1460.10V1458.10"/>
<path class="c" d="M1035.00 1458.10H1049.60"/>
<text x="1032.64" y="1450.00" font-size="41.50">c</text>
<g transform="translate(1074.40 1556.10)"><rect width="30.00" height="33.10" fill="#fff"/><rect x="14.15" width="1.50" height="33.10"/><path class="b" d="M0 33.10V0H30.00V33.10"/></g>
<path class="e" d="M1089.40 1556.10V1553.80"/>
<path class="c" d="M1082.10 1553.80H1096.70"/>
<text x="1077.83" y="1546.30" font-size="41.50">d</text>
<g transform="translate(1152.85 1576.10)"><rect width="30.00" height="13.10" fill="#fff"/><path class="k" d="M2.20 0V13.10" stroke-width="4.40" stroke-dasharray="4.40" stroke-dashoffset="4.40"/><path class="k" d="M6.60 0V13.10" stroke-width="4.40" stroke-dasharray="4.40" stroke-dashoffset="0.00"/><path class="k" d="M11.00 0V13.10" stroke-width="4.40" stroke-dasharray="4.40" stroke-dashoffset="4.40"/><path class="k" d="M15.40 0V13.10" stroke-width="4.40" stroke-dasharray="4.40" stroke-dashoffset="0.00"/><path class="k" d="M19.80 0V13.10" stroke-width="4.40" stroke-dasharray="4.40" stroke-dashoffset="4.40"/><path class="k" d="M24.20 0V13.10" stroke-width="4.40" stroke-dasharray="4.40" stroke-dashoffset="0.00"/><path class="k" d="M28.20 0V13.10" stroke-width="3.60" stroke-dasharray="4.40" stroke-dashoffset="4.40"/><path class="b" d="M0 13.10V0H30.00V13.10"/></g>
<path class="e" d="M1167.85 1576.10V1572.60"/>
<path class="c" d="M1160.55 1572.60H1175.15"/>
<text x="1157.84" y="1566.50" font-size="41.50">a</text>
<g transform="translate(1199.95 1560.10)"><rect width="30.00" height="29.10" fill="#fff"/><path class="k" d="M4.40 0V29.10" stroke-width="8.80" stroke-dasharray="8.80" stroke-dashoffset="8.80"/><path class="k" d="M13.20 0V29.10" stroke-width="8.80" stroke-dasharray="8.80" stroke-dashoffset="0.00"/><path class="k" d="M22.00 0V29.10" stroke-width="8.80" stroke-dasharray="8.80" stroke-dashoffset="8.80"/><path class="k" d="M28.20 0V29.10" stroke-width="3.60" stroke-dasharray="8.80" stroke-dashoffset="0.00"/><path class="b" d="M0 29.10V0H30.00V29.10"/></g>
<path class="e" d="M1214.95 1560.10V1557.60"/>
<path class="c" d="M1207.65 1557.60H1222.25"/>
<text x="1205.62" y="1550.80" font-size="41.50">b</text>
<g transform="translate(1247.05 1472.60)"><rect width="30.00" height="116.60" fill="#fff"/><path class="k" d="M15.00 0V116.60" stroke-width="30.00" stroke-dasharray="1.60 7.48" stroke-dashoffset="0.80"/><path class="b" d="M0 116.60V0H30.00V116.60"/></g>
<path class="e" d="M1262.05 1472.60V1469.80"/>
<path class="c" d="M1254.75 1469.80H1269.35"/>
<text x="1253.64" y="1463.30" font-size="41.50">c</text>
<g transform="translate(1294.15 1565.60)"><rect width="30.00" height="23.60" fill="#fff"/><rect x="14.15" width="1.50" height="23.60"/><path class="b" d="M0 23.60V0H30.00V23.60"/></g>
<path class="e" d="M1309.15 1565.60V1561.10"/>
<path class="c" d="M1301.85 1561.10H1316.45"/>
<text x="1296.63" y="1555.30" font-size="41.50">d</text>
<g transform="translate(1372.60 1576.10)"><rect width="30.00" height="13.10" fill="#fff"/><path class="k" d="M2.20 0V13.10" stroke-width="4.40" stroke-dasharray="4.40" stroke-dashoffset="4.40"/><path class="k" d="M6.60 0V13.10" stroke-width="4.40" stroke-dasharray="4.40" stroke-dashoffset="0.00"/><path class="k" d="M11.00 0V13.10" stroke-width="4.40" stroke-dasharray="4.40" stroke-dashoffset="4.40"/><path class="k" d="M15.40 0V13.10" stroke-width="4.40" stroke-dasharray="4.40" stroke-dashoffset="0.00"/><path class="k" d="M19.80 0V13.10" stroke-width="4.40" stroke-dasharray="4.40" stroke-dashoffset="4.40"/><path class="k" d="M24.20 0V13.10" stroke-width="4.40" stroke-dasharray="4.40" stroke-dashoffset="0.00"/><path class="k" d="M28.20 0V13.10" stroke-width="3.60" stroke-dasharray="4.40" stroke-dashoffset="4.40"/><path class="b" d="M0 13.10V0H30.00V13.10"/></g>
<path class="e" d="M1387.60 1576.10V1574.30"/>
<path class="c" d="M1380.30 1574.30H1394.90"/>
<text x="1377.84" y="1563.30" font-size="41.50">a</text>
<g transform="translate(1419.70 1573.60)"><rect width="30.00" height="15.60" fill="#fff"/><path class="k" d="M4.40 0V15.60" stroke-width="8.80" stroke-dasharray="8.80" stroke-dashoffset="8.80"/><path class="k" d="M13.20 0V15.60" stroke-width="8.80" stroke-dasharray="8.80" stroke-dashoffset="0.00"/><path class="k" d="M22.00 0V15.60" stroke-width="8.80" stroke-dasharray="8.80" stroke-dashoffset="8.80"/><path class="k" d="M28.20 0V15.60" stroke-width="3.60" stroke-dasharray="8.80" stroke-dashoffset="0.00"/><path class="b" d="M0 15.60V0H30.00V15.60"/></g>
<path class="e" d="M1434.70 1573.60V1571.10"/>
<path class="c" d="M1427.40 1571.10H1442.00"/>
<text x="1426.54" y="1562.00" font-size="41.50">a</text>
<g transform="translate(1466.80 1489.30)"><rect width="30.00" height="99.90" fill="#fff"/><path class="k" d="M15.00 0V99.90" stroke-width="30.00" stroke-dasharray="1.60 7.48" stroke-dashoffset="0.80"/><path class="b" d="M0 99.90V0H30.00V99.90"/></g>
<path class="e" d="M1481.80 1489.30V1487.30"/>
<path class="c" d="M1474.50 1487.30H1489.10"/>
<text x="1473.12" y="1479.00" font-size="41.50">b</text>
<g transform="translate(1513.90 1576.80)"><rect width="30.00" height="12.40" fill="#fff"/><rect x="14.15" width="1.50" height="12.40"/><path class="b" d="M0 12.40V0H30.00V12.40"/></g>
<path class="e" d="M1528.90 1576.80V1573.80"/>
<path class="c" d="M1521.60 1573.80H1536.20"/>
<text x="1521.04" y="1567.00" font-size="41.50">a</text>
<path class="a" d="M896.60 1150.90H1567.20V1589.20H896.60"/>
<path class="f" d="M909.00 1150.90V1589.20"/>
<path class="a" d="M896.60 1238.56H908.50"/>
<path class="a" d="M896.60 1326.22H908.50"/>
<path class="a" d="M896.60 1413.88H908.50"/>
<path class="a" d="M896.60 1501.54H908.50"/>
<path class="a" d="M1018.00 1589.80V1602.40"/>
<path class="a" d="M1238.70 1589.80V1602.40"/>
<path class="a" d="M1458.00 1589.80V1602.40"/>
<text x="932.94" y="1204.30" font-size="43.80" letter-spacing="-1.996">Brain</text>
<g transform="translate(190.50 1846.30)"><rect width="30.00" height="300.00" fill="#fff"/><path class="k" d="M2.20 0V300.00" stroke-width="4.40" stroke-dasharray="4.40" stroke-dashoffset="4.40"/><path class="k" d="M6.60 0V300.00" stroke-width="4.40" stroke-dasharray="4.40" stroke-dashoffset="0.00"/><path class="k" d="M11.00 0V300.00" stroke-width="4.40" stroke-dasharray="4.40" stroke-dashoffset="4.40"/><path class="k" d="M15.40 0V300.00" stroke-width="4.40" stroke-dasharray="4.40" stroke-dashoffset="0.00"/><path class="k" d="M19.80 0V300.00" stroke-width="4.40" stroke-dasharray="4.40" stroke-dashoffset="4.40"/><path class="k" d="M24.20 0V300.00" stroke-width="4.40" stroke-dasharray="4.40" stroke-dashoffset="0.00"/><path class="k" d="M28.20 0V300.00" stroke-width="3.60" stroke-dasharray="4.40" stroke-dashoffset="4.40"/><path class="b" d="M0 300.00V0H30.00V300.00"/></g>
<path class="e" d="M205.50 1846.30V1843.60"/>
<path class="c" d="M198.20 1843.60H212.80"/>
<text x="196.04" y="1828.80" font-size="41.50">a</text>
<g transform="translate(237.50 1893.60)"><rect width="30.00" height="252.70" fill="#fff"/><path class="k" d="M4.40 0V252.70" stroke-width="8.80" stroke-dasharray="8.80" stroke-dashoffset="8.80"/><path class="k" d="M13.20 0V252.70" stroke-width="8.80" stroke-dasharray="8.80" stroke-dashoffset="0.00"/><path class="k" d="M22.00 0V252.70" stroke-width="8.80" stroke-dasharray="8.80" stroke-dashoffset="8.80"/><path class="k" d="M28.20 0V252.70" stroke-width="3.60" stroke-dasharray="8.80" stroke-dashoffset="0.00"/><path class="b" d="M0 252.70V0H30.00V252.70"/></g>
<path class="e" d="M252.50 1893.60V1889.30"/>
<path class="c" d="M245.20 1889.30H259.80"/>
<text x="243.12" y="1878.80" font-size="41.50">b</text>
<g transform="translate(284.50 1947.30)"><rect width="30.00" height="199.00" fill="#fff"/><path class="k" d="M15.00 0V199.00" stroke-width="30.00" stroke-dasharray="1.60 7.48" stroke-dashoffset="0.80"/><path class="b" d="M0 199.00V0H30.00V199.00"/></g>
<path class="e" d="M299.50 1947.30V1944.30"/>
<path class="c" d="M292.20 1944.30H306.80"/>
<text x="291.34" y="1932.80" font-size="41.50">c</text>
<g transform="translate(331.50 2019.30)"><rect width="30.00" height="127.00" fill="#fff"/><rect x="14.15" width="1.50" height="127.00"/><path class="b" d="M0 127.00V0H30.00V127.00"/></g>
<path class="e" d="M346.50 2019.30V2016.10"/>
<path class="c" d="M339.20 2016.10H353.80"/>
<text x="332.83" y="2008.30" font-size="41.50">d</text>
<g transform="translate(410.25 1844.80)"><rect width="30.00" height="301.50" fill="#fff"/><path class="k" d="M2.20 0V301.50" stroke-width="4.40" stroke-dasharray="4.40" stroke-dashoffset="4.40"/><path class="k" d="M6.60 0V301.50" stroke-width="4.40" stroke-dasharray="4.40" stroke-dashoffset="0.00"/><path class="k" d="M11.00 0V301.50" stroke-width="4.40" stroke-dasharray="4.40" stroke-dashoffset="4.40"/><path class="k" d="M15.40 0V301.50" stroke-width="4.40" stroke-dasharray="4.40" stroke-dashoffset="0.00"/><path class="k" d="M19.80 0V301.50" stroke-width="4.40" stroke-dasharray="4.40" stroke-dashoffset="4.40"/><path class="k" d="M24.20 0V301.50" stroke-width="4.40" stroke-dasharray="4.40" stroke-dashoffset="0.00"/><path class="k" d="M28.20 0V301.50" stroke-width="3.60" stroke-dasharray="4.40" stroke-dashoffset="4.40"/><path class="b" d="M0 301.50V0H30.00V301.50"/></g>
<path class="e" d="M425.25 1844.80V1841.60"/>
<path class="c" d="M417.95 1841.60H432.55"/>
<text x="416.54" y="1828.80" font-size="41.50">a</text>
<g transform="translate(457.25 1896.10)"><rect width="30.00" height="250.20" fill="#fff"/><path class="k" d="M4.40 0V250.20" stroke-width="8.80" stroke-dasharray="8.80" stroke-dashoffset="8.80"/><path class="k" d="M13.20 0V250.20" stroke-width="8.80" stroke-dasharray="8.80" stroke-dashoffset="0.00"/><path class="k" d="M22.00 0V250.20" stroke-width="8.80" stroke-dasharray="8.80" stroke-dashoffset="8.80"/><path class="k" d="M28.20 0V250.20" stroke-width="3.60" stroke-dasharray="8.80" stroke-dashoffset="0.00"/><path class="b" d="M0 250.20V0H30.00V250.20"/></g>
<path class="e" d="M472.25 1896.10V1892.30"/>
<path class="c" d="M464.95 1892.30H479.55"/>
<text x="462.62" y="1882.00" font-size="41.50">b</text>
<g transform="translate(504.25 1952.60)"><rect width="30.00" height="193.70" fill="#fff"/><path class="k" d="M15.00 0V193.70" stroke-width="30.00" stroke-dasharray="1.60 7.48" stroke-dashoffset="0.80"/><path class="b" d="M0 193.70V0H30.00V193.70"/></g>
<path class="e" d="M519.25 1952.60V1945.60"/>
<path class="c" d="M511.95 1945.60H526.55"/>
<text x="510.34" y="1935.80" font-size="41.50">c</text>
<g transform="translate(551.25 2019.30)"><rect width="30.00" height="127.00" fill="#fff"/><rect x="14.15" width="1.50" height="127.00"/><path class="b" d="M0 127.00V0H30.00V127.00"/></g>
<path class="e" d="M566.25 2019.30V2016.10"/>
<path class="c" d="M558.95 2016.10H573.55"/>
<text x="552.83" y="2008.30" font-size="41.50">d</text>
<g transform="translate(630.00 1840.10)"><rect width="30.00" height="306.20" fill="#fff"/><path class="k" d="M2.20 0V306.20" stroke-width="4.40" stroke-dasharray="4.40" stroke-dashoffset="4.40"/><path class="k" d="M6.60 0V306.20" stroke-width="4.40" stroke-dasharray="4.40" stroke-dashoffset="0.00"/><path class="k" d="M11.00 0V306.20" stroke-width="4.40" stroke-dasharray="4.40" stroke-dashoffset="4.40"/><path class="k" d="M15.40 0V306.20" stroke-width="4.40" stroke-dasharray="4.40" stroke-dashoffset="0.00"/><path class="k" d="M19.80 0V306.20" stroke-width="4.40" stroke-dasharray="4.40" stroke-dashoffset="4.40"/><path class="k" d="M24.20 0V306.20" stroke-width="4.40" stroke-dasharray="4.40" stroke-dashoffset="0.00"/><path class="k" d="M28.20 0V306.20" stroke-width="3.60" stroke-dasharray="4.40" stroke-dashoffset="4.40"/><path class="b" d="M0 306.20V0H30.00V306.20"/></g>
<path class="e" d="M645.00 1840.10V1835.60"/>
<path class="c" d="M637.70 1835.60H652.30"/>
<text x="636.54" y="1827.00" font-size="41.50">a</text>
<g transform="translate(677.00 1885.10)"><rect width="30.00" height="261.20" fill="#fff"/><path class="k" d="M4.40 0V261.20" stroke-width="8.80" stroke-dasharray="8.80" stroke-dashoffset="8.80"/><path class="k" d="M13.20 0V261.20" stroke-width="8.80" stroke-dasharray="8.80" stroke-dashoffset="0.00"/><path class="k" d="M22.00 0V261.20" stroke-width="8.80" stroke-dasharray="8.80" stroke-dashoffset="8.80"/><path class="k" d="M28.20 0V261.20" stroke-width="3.60" stroke-dasharray="8.80" stroke-dashoffset="0.00"/><path class="b" d="M0 261.20V0H30.00V261.20"/></g>
<path class="e" d="M692.00 1885.10V1878.80"/>
<path class="c" d="M684.70 1878.80H699.30"/>
<text x="683.12" y="1868.30" font-size="41.50">b</text>
<g transform="translate(724.00 1957.30)"><rect width="30.00" height="189.00" fill="#fff"/><path class="k" d="M15.00 0V189.00" stroke-width="30.00" stroke-dasharray="1.60 7.48" stroke-dashoffset="0.80"/><path class="b" d="M0 189.00V0H30.00V189.00"/></g>
<path class="e" d="M739.00 1957.30V1954.30"/>
<path class="c" d="M731.70 1954.30H746.30"/>
<text x="729.34" y="1945.80" font-size="41.50">c</text>
<g transform="translate(771.00 2023.10)"><rect width="30.00" height="123.20" fill="#fff"/><rect x="14.15" width="1.50" height="123.20"/><path class="b" d="M0 123.20V0H30.00V123.20"/></g>
<path class="e" d="M786.00 2023.10V2020.60"/>
<path class="c" d="M778.70 2020.60H793.30"/>
<text x="774.13" y="2013.30" font-size="41.50">d</text>
<path class="a" d="M153.80 1707.60H825.20V2146.30H153.80"/>
<path class="f" d="M166.20 1707.60V2146.30"/>
<path class="a" d="M153.80 1795.34H165.70"/>
<path class="a" d="M153.80 1883.08H165.70"/>
<path class="a" d="M153.80 1970.82H165.70"/>
<path class="a" d="M153.80 2058.56H165.70"/>
<path class="a" d="M275.00 2146.90V2159.50"/>
<path class="a" d="M495.60 2146.90V2159.50"/>
<path class="a" d="M715.00 2146.90V2159.50"/>
<text x="84.07" y="1721.70" font-size="42.50" font-weight="bold" letter-spacing="0.100">250</text>
<text x="84.07" y="1809.44" font-size="42.50" font-weight="bold" letter-spacing="0.100">200</text>
<text x="84.07" y="1897.18" font-size="42.50" font-weight="bold" letter-spacing="0.100">150</text>
<text x="84.07" y="1984.92" font-size="42.50" font-weight="bold" letter-spacing="0.100">100</text>
<text x="105.42" y="2072.66" font-size="42.50" font-weight="bold" letter-spacing="0.100">50</text>
<text x="126.77" y="2160.40" font-size="42.50" font-weight="bold" letter-spacing="0.100">0</text>
<text x="177.58" y="1757.40" font-size="44.80" letter-spacing="-1.649">Intestine</text>
<text x="248.32" y="2198.30" font-size="42.50" font-weight="bold" letter-spacing="-1.377">4 d</text>
<text x="456.50" y="2198.30" font-size="42.50" font-weight="bold" letter-spacing="-0.694">14 d</text>
<text x="675.82" y="2198.30" font-size="42.50" font-weight="bold" letter-spacing="-0.500">28 d</text>
<g transform="translate(933.10 1846.80)"><rect width="30.00" height="299.70" fill="#fff"/><path class="k" d="M2.20 0V299.70" stroke-width="4.40" stroke-dasharray="4.40" stroke-dashoffset="4.40"/><path class="k" d="M6.60 0V299.70" stroke-width="4.40" stroke-dasharray="4.40" stroke-dashoffset="0.00"/><path class="k" d="M11.00 0V299.70" stroke-width="4.40" stroke-dasharray="4.40" stroke-dashoffset="4.40"/><path class="k" d="M15.40 0V299.70" stroke-width="4.40" stroke-dasharray="4.40" stroke-dashoffset="0.00"/><path class="k" d="M19.80 0V299.70" stroke-width="4.40" stroke-dasharray="4.40" stroke-dashoffset="4.40"/><path class="k" d="M24.20 0V299.70" stroke-width="4.40" stroke-dasharray="4.40" stroke-dashoffset="0.00"/><path class="k" d="M28.20 0V299.70" stroke-width="3.60" stroke-dasharray="4.40" stroke-dashoffset="4.40"/><path class="b" d="M0 299.70V0H30.00V299.70"/></g>
<path class="e" d="M948.10 1846.80V1843.60"/>
<path class="c" d="M940.80 1843.60H955.40"/>
<text x="939.54" y="1833.80" font-size="41.50">a</text>
<g transform="translate(980.20 1817.60)"><rect width="30.00" height="328.90" fill="#fff"/><path class="k" d="M4.40 0V328.90" stroke-width="8.80" stroke-dasharray="8.80" stroke-dashoffset="8.80"/><path class="k" d="M13.20 0V328.90" stroke-width="8.80" stroke-dasharray="8.80" stroke-dashoffset="0.00"/><path class="k" d="M22.00 0V328.90" stroke-width="8.80" stroke-dasharray="8.80" stroke-dashoffset="8.80"/><path class="k" d="M28.20 0V328.90" stroke-width="3.60" stroke-dasharray="8.80" stroke-dashoffset="0.00"/><path class="b" d="M0 328.90V0H30.00V328.90"/></g>
<path class="e" d="M995.20 1817.60V1814.30"/>
<path class="c" d="M987.90 1814.30H1002.50"/>
<text x="983.12" y="1807.00" font-size="41.50">b</text>
<g transform="translate(1027.30 1880.60)"><rect width="30.00" height="265.90" fill="#fff"/><path class="k" d="M15.00 0V265.90" stroke-width="30.00" stroke-dasharray="1.60 7.48" stroke-dashoffset="0.80"/><path class="b" d="M0 265.90V0H30.00V265.90"/></g>
<path class="e" d="M1042.30 1880.60V1878.10"/>
<path class="c" d="M1035.00 1878.10H1049.60"/>
<text x="1034.34" y="1868.30" font-size="41.50">c</text>
<g transform="translate(1074.40 2053.80)"><rect width="30.00" height="92.70" fill="#fff"/><rect x="14.15" width="1.50" height="92.70"/><path class="b" d="M0 92.70V0H30.00V92.70"/></g>
<path class="e" d="M1089.40 2053.80V2051.30"/>
<path class="c" d="M1082.10 2051.30H1096.70"/>
<text x="1077.83" y="2044.50" font-size="41.50">d</text>
<g transform="translate(1152.85 1845.10)"><rect width="30.00" height="301.40" fill="#fff"/><path class="k" d="M2.20 0V301.40" stroke-width="4.40" stroke-dasharray="4.40" stroke-dashoffset="4.40"/><path class="k" d="M6.60 0V301.40" stroke-width="4.40" stroke-dasharray="4.40" stroke-dashoffset="0.00"/><path class="k" d="M11.00 0V301.40" stroke-width="4.40" stroke-dasharray="4.40" stroke-dashoffset="4.40"/><path class="k" d="M15.40 0V301.40" stroke-width="4.40" stroke-dasharray="4.40" stroke-dashoffset="0.00"/><path class="k" d="M19.80 0V301.40" stroke-width="4.40" stroke-dasharray="4.40" stroke-dashoffset="4.40"/><path class="k" d="M24.20 0V301.40" stroke-width="4.40" stroke-dasharray="4.40" stroke-dashoffset="0.00"/><path class="k" d="M28.20 0V301.40" stroke-width="3.60" stroke-dasharray="4.40" stroke-dashoffset="4.40"/><path class="b" d="M0 301.40V0H30.00V301.40"/></g>
<path class="e" d="M1167.85 1845.10V1841.80"/>
<path class="c" d="M1160.55 1841.80H1175.15"/>
<text x="1158.54" y="1828.80" font-size="41.50">a</text>
<g transform="translate(1199.95 1823.60)"><rect width="30.00" height="322.90" fill="#fff"/><path class="k" d="M4.40 0V322.90" stroke-width="8.80" stroke-dasharray="8.80" stroke-dashoffset="8.80"/><path class="k" d="M13.20 0V322.90" stroke-width="8.80" stroke-dasharray="8.80" stroke-dashoffset="0.00"/><path class="k" d="M22.00 0V322.90" stroke-width="8.80" stroke-dasharray="8.80" stroke-dashoffset="8.80"/><path class="k" d="M28.20 0V322.90" stroke-width="3.60" stroke-dasharray="8.80" stroke-dashoffset="0.00"/><path class="b" d="M0 322.90V0H30.00V322.90"/></g>
<path class="e" d="M1214.95 1823.60V1817.60"/>
<path class="c" d="M1207.65 1817.60H1222.25"/>
<text x="1203.62" y="1807.00" font-size="41.50">b</text>
<g transform="translate(1247.05 1909.80)"><rect width="30.00" height="236.70" fill="#fff"/><path class="k" d="M15.00 0V236.70" stroke-width="30.00" stroke-dasharray="1.60 7.48" stroke-dashoffset="0.80"/><path class="b" d="M0 236.70V0H30.00V236.70"/></g>
<path class="e" d="M1262.05 1909.80V1904.30"/>
<path class="c" d="M1254.75 1904.30H1269.35"/>
<text x="1253.64" y="1896.50" font-size="41.50">c</text>
<g transform="translate(1294.15 2061.10)"><rect width="30.00" height="85.40" fill="#fff"/><rect x="14.15" width="1.50" height="85.40"/><path class="b" d="M0 85.40V0H30.00V85.40"/></g>
<path class="e" d="M1309.15 2061.10V2059.30"/>
<path class="c" d="M1301.85 2059.30H1316.45"/>
<text x="1295.33" y="2050.80" font-size="41.50">d</text>
<g transform="translate(1372.60 1840.60)"><rect width="30.00" height="305.90" fill="#fff"/><path class="k" d="M2.20 0V305.90" stroke-width="4.40" stroke-dasharray="4.40" stroke-dashoffset="4.40"/><path class="k" d="M6.60 0V305.90" stroke-width="4.40" stroke-dasharray="4.40" stroke-dashoffset="0.00"/><path class="k" d="M11.00 0V305.90" stroke-width="4.40" stroke-dasharray="4.40" stroke-dashoffset="4.40"/><path class="k" d="M15.40 0V305.90" stroke-width="4.40" stroke-dasharray="4.40" stroke-dashoffset="0.00"/><path class="k" d="M19.80 0V305.90" stroke-width="4.40" stroke-dasharray="4.40" stroke-dashoffset="4.40"/><path class="k" d="M24.20 0V305.90" stroke-width="4.40" stroke-dasharray="4.40" stroke-dashoffset="0.00"/><path class="k" d="M28.20 0V305.90" stroke-width="3.60" stroke-dasharray="4.40" stroke-dashoffset="4.40"/><path class="b" d="M0 305.90V0H30.00V305.90"/></g>
<path class="e" d="M1387.60 1840.60V1835.60"/>
<path class="c" d="M1380.30 1835.60H1394.90"/>
<text x="1380.34" y="1828.80" font-size="41.50">a</text>
<g transform="translate(1419.70 1808.10)"><rect width="30.00" height="338.40" fill="#fff"/><path class="k" d="M4.40 0V338.40" stroke-width="8.80" stroke-dasharray="8.80" stroke-dashoffset="8.80"/><path class="k" d="M13.20 0V338.40" stroke-width="8.80" stroke-dasharray="8.80" stroke-dashoffset="0.00"/><path class="k" d="M22.00 0V338.40" stroke-width="8.80" stroke-dasharray="8.80" stroke-dashoffset="8.80"/><path class="k" d="M28.20 0V338.40" stroke-width="3.60" stroke-dasharray="8.80" stroke-dashoffset="0.00"/><path class="b" d="M0 338.40V0H30.00V338.40"/></g>
<path class="e" d="M1434.70 1808.10V1803.10"/>
<path class="c" d="M1427.40 1803.10H1442.00"/>
<text x="1426.42" y="1794.00" font-size="41.50">b</text>
<g transform="translate(1466.80 1893.60)"><rect width="30.00" height="252.90" fill="#fff"/><path class="k" d="M15.00 0V252.90" stroke-width="30.00" stroke-dasharray="1.60 7.48" stroke-dashoffset="0.80"/><path class="b" d="M0 252.90V0H30.00V252.90"/></g>
<path class="e" d="M1481.80 1893.60V1888.10"/>
<path class="c" d="M1474.50 1888.10H1489.10"/>
<text x="1470.64" y="1877.80" font-size="41.50">c</text>
<g transform="translate(1513.90 2070.10)"><rect width="30.00" height="76.40" fill="#fff"/><rect x="14.15" width="1.50" height="76.40"/><path class="b" d="M0 76.40V0H30.00V76.40"/></g>
<path class="e" d="M1528.90 2070.10V2065.10"/>
<path class="c" d="M1521.60 2065.10H1536.20"/>
<text x="1516.63" y="2055.80" font-size="41.50">d</text>
<path class="a" d="M896.60 1707.60H1567.20V2146.50H896.60"/>
<path class="f" d="M909.00 1707.60V2146.50"/>
<path class="a" d="M896.60 1795.38H908.50"/>
<path class="a" d="M896.60 1883.16H908.50"/>
<path class="a" d="M896.60 1970.94H908.50"/>
<path class="a" d="M896.60 2058.72H908.50"/>
<path class="a" d="M1018.00 2147.10V2159.70"/>
<path class="a" d="M1238.70 2147.10V2159.70"/>
<path class="a" d="M1458.00 2147.10V2159.70"/>
<text x="929.59" y="1751.00" font-size="44.60" letter-spacing="-1.565">Intestine</text>
<text x="991.22" y="2198.30" font-size="42.50" font-weight="bold" letter-spacing="-1.427">4 d</text>
<text x="1198.90" y="2198.30" font-size="42.50" font-weight="bold" letter-spacing="-0.560">14 d</text>
<text x="1418.62" y="2198.30" font-size="42.50" font-weight="bold" letter-spacing="-0.633">28 d</text>
<text x="416.09" y="34.90" font-size="45.00" letter-spacing="-1.486">Se (IV)</text>
<text x="1161.79" y="34.90" font-size="45.00" letter-spacing="-1.319">Se (VI)</text>
<text x="724.59" y="2286.10" font-size="42.00" letter-spacing="-0.088">Exposure  time (d)</text>
<text transform="translate(37.90 0) rotate(-90)" y="0" font-size="45.00"><tspan x="-1312.85" letter-spacing="-1.329">GSH</tspan> <tspan x="-1216.98">(</tspan> <tspan x="-1203.43" letter-spacing="-2.720">nmol/mg</tspan> <tspan x="-1048.60" letter-spacing="-1.401">Pro</tspan> <tspan x="-978.14" letter-spacing="-2.083">wet</tspan> <tspan x="-907.84" letter-spacing="-3.292">wt</tspan> <tspan x="-861.25" dy="-6.85" font-size="40.00">)</tspan></text>
<g transform="translate(1289.50 1181.30)"><rect width="48.20" height="30.10" fill="#fff"/><path class="k" d="M2.20 0V30.10" stroke-width="4.40" stroke-dasharray="4.40" stroke-dashoffset="4.40"/><path class="k" d="M6.60 0V30.10" stroke-width="4.40" stroke-dasharray="4.40" stroke-dashoffset="0.00"/><path class="k" d="M11.00 0V30.10" stroke-width="4.40" stroke-dasharray="4.40" stroke-dashoffset="4.40"/><path class="k" d="M15.40 0V30.10" stroke-width="4.40" stroke-dasharray="4.40" stroke-dashoffset="0.00"/><path class="k" d="M19.80 0V30.10" stroke-width="4.40" stroke-dasharray="4.40" stroke-dashoffset="4.40"/><path class="k" d="M24.20 0V30.10" stroke-width="4.40" stroke-dasharray="4.40" stroke-dashoffset="0.00"/><path class="k" d="M28.60 0V30.10" stroke-width="4.40" stroke-dasharray="4.40" stroke-dashoffset="4.40"/><path class="k" d="M33.00 0V30.10" stroke-width="4.40" stroke-dasharray="4.40" stroke-dashoffset="0.00"/><path class="k" d="M37.40 0V30.10" stroke-width="4.40" stroke-dasharray="4.40" stroke-dashoffset="4.40"/><path class="k" d="M41.80 0V30.10" stroke-width="4.40" stroke-dasharray="4.40" stroke-dashoffset="0.00"/><path class="k" d="M46.10 0V30.10" stroke-width="4.20" stroke-dasharray="4.40" stroke-dashoffset="4.40"/><rect width="48.20" height="30.10" fill="none" stroke="#000" stroke-width="6.75" stroke-linejoin="round"/></g>
<text x="1363.21" y="1207.70" font-size="44.50" letter-spacing="-1.192">0 μg/L</text>
<g transform="translate(1289.50 1233.00)"><rect width="48.20" height="30.10" fill="#fff"/><path class="k" d="M4.40 0V30.10" stroke-width="8.80" stroke-dasharray="8.80" stroke-dashoffset="8.80"/><path class="k" d="M13.20 0V30.10" stroke-width="8.80" stroke-dasharray="8.80" stroke-dashoffset="0.00"/><path class="k" d="M22.00 0V30.10" stroke-width="8.80" stroke-dasharray="8.80" stroke-dashoffset="8.80"/><path class="k" d="M30.80 0V30.10" stroke-width="8.80" stroke-dasharray="8.80" stroke-dashoffset="0.00"/><path class="k" d="M39.60 0V30.10" stroke-width="8.80" stroke-dasharray="8.80" stroke-dashoffset="8.80"/><path class="k" d="M46.10 0V30.10" stroke-width="4.20" stroke-dasharray="8.80" stroke-dashoffset="0.00"/><rect width="48.20" height="30.10" fill="none" stroke="#000" stroke-width="6.75" stroke-linejoin="round"/></g>
<text x="1364.79" y="1259.60" font-size="44.50" letter-spacing="-1.633">10 μg/L</text>
<g transform="translate(1289.50 1284.50)"><rect width="48.20" height="30.10" fill="#fff"/><rect y="8.45" width="48.20" height="1.9"/><rect y="17.85" width="48.20" height="1.9"/><rect width="48.20" height="30.10" fill="none" stroke="#000" stroke-width="6.75" stroke-linejoin="round"/></g>
<text x="1362.94" y="1311.20" font-size="44.50" letter-spacing="-1.443">200 μg/L</text>
<g transform="translate(1289.50 1336.40)"><rect width="48.20" height="30.10" fill="#fff"/><rect x="11.60" width="1.80" height="30.10"/><rect x="23.30" width="1.80" height="30.10"/><rect x="35.00" width="1.80" height="30.10"/><rect width="48.20" height="30.10" fill="none" stroke="#000" stroke-width="6.75" stroke-linejoin="round"/></g>
<text x="1364.79" y="1363.10" font-size="44.50" letter-spacing="-1.774">1000 μg/L</text>
</svg>
</body>
</html>
